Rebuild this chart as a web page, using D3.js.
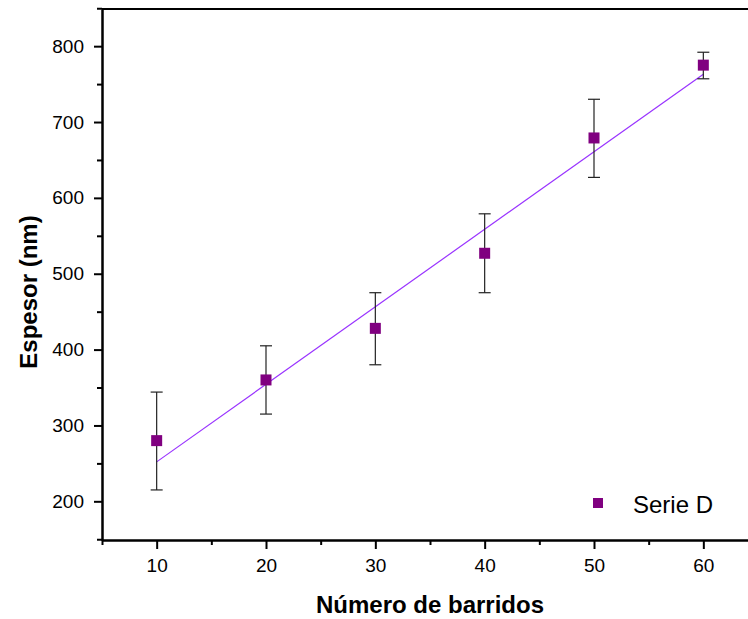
<!DOCTYPE html>
<html>
<head>
<meta charset="utf-8">
<script src="https://cdn.jsdelivr.net/npm/d3@7"></script>
<style>
    body { margin: 0; background: #fff; }
    svg { display: block; font-family: "Liberation Sans", Arial, sans-serif; }
</style>
</head>
<body>
<script>
// Data
var barridos = [10, 20, 30, 40, 50, 60];
var espesor = [280, 360, 428, 527, 679, 775];
var errLow = [215, 315, 380, 475, 627, 757];
var errHigh = [344, 405, 475, 579, 730, 792];
// straight fit drawn through the points (end values)
var fitX = [10, 60];
var fitY = [252, 763];
var xTicks = [10, 20, 30, 40, 50, 60];
var xMinor = [5, 15, 25, 35, 45, 55, 65];
var yTicks = [200, 300, 400, 500, 600, 700, 800];
var yMinor = [150, 250, 350, 450, 550, 650, 750, 850];
var seriesName = "Serie D";

var W = 748, H = 619;
var margin = {top: 9, left: 102, bottom: 79};
var plotW = 656, plotH = H - margin.top - margin.bottom;

var svg = d3.select("body").append("svg")
    .attr("width", W)
    .attr("height", H);

var g = svg.append("g")
    .attr("transform", "translate(" + margin.left + "," + margin.top + ")");

var x = d3.scaleLinear().domain([5, 65]).range([0, plotW]);
var y = d3.scaleLinear().domain([149, 849]).range([plotH, 0]);

var pts = barridos.map(function(b, i) {
    return {x: b, y: espesor[i], lo: errLow[i], hi: errHigh[i]};
});

// fit line
var line = d3.line()
    .x(function(d) { return x(d[0]); })
    .y(function(d) { return y(d[1]); });
g.append("path")
    .datum(fitX.map(function(v, i) { return [v, fitY[i]]; }))
    .attr("d", line)
    .attr("fill", "none")
    .attr("stroke", "#9933ff")
    .attr("stroke-width", 1.2);

// error bars
var eb = g.selectAll(".err").data(pts).enter().append("g")
    .attr("stroke", "#222")
    .attr("stroke-width", 1.2);
eb.append("line")
    .attr("x1", function(d) { return x(d.x); })
    .attr("x2", function(d) { return x(d.x); })
    .attr("y1", function(d) { return y(d.lo); })
    .attr("y2", function(d) { return y(d.hi); });
eb.append("line")
    .attr("x1", function(d) { return x(d.x) - 6; })
    .attr("x2", function(d) { return x(d.x) + 6; })
    .attr("y1", function(d) { return y(d.hi); })
    .attr("y2", function(d) { return y(d.hi); });
eb.append("line")
    .attr("x1", function(d) { return x(d.x) - 6; })
    .attr("x2", function(d) { return x(d.x) + 6; })
    .attr("y1", function(d) { return y(d.lo); })
    .attr("y2", function(d) { return y(d.lo); });

// square markers
var ms = 11;
g.selectAll(".pt").data(pts).enter().append("rect")
    .attr("x", function(d) { return x(d.x) - ms / 2; })
    .attr("y", function(d) { return y(d.y) - ms / 2; })
    .attr("width", ms)
    .attr("height", ms)
    .attr("fill", "#800080");

// axes: minor ticks first, then major ones with labels
function styleAxis(sel) {
    sel.selectAll("path").attr("stroke", "#000").attr("stroke-width", 2);
    sel.selectAll("line").attr("stroke", "#000").attr("stroke-width", 2);
    sel.selectAll("text").attr("fill", "#000")
        .style("font-family", "'Liberation Sans', Arial, sans-serif")
        .style("font-size", "19px");
}

g.append("g")
    .attr("transform", "translate(0," + plotH + ")")
    .call(d3.axisBottom(x).tickValues(xMinor).tickFormat("")
        .tickSize(5).tickSizeOuter(0))
    .call(styleAxis);
g.append("g")
    .attr("transform", "translate(0," + plotH + ")")
    .call(d3.axisBottom(x).tickValues(xTicks).tickFormat(d3.format("d"))
        .tickSize(9).tickSizeOuter(0).tickPadding(10))
    .call(styleAxis);

g.append("g")
    .call(d3.axisLeft(y).tickValues(yMinor).tickFormat("")
        .tickSize(5).tickSizeOuter(0))
    .call(styleAxis);
g.append("g")
    .call(d3.axisLeft(y).tickValues(yTicks).tickFormat(d3.format("d"))
        .tickSize(8).tickSizeOuter(0).tickPadding(10))
    .call(styleAxis);

// top frame line
g.append("line")
    .attr("x1", 0).attr("x2", plotW)
    .attr("y1", 0).attr("y2", 0)
    .attr("stroke", "#000").attr("stroke-width", 2);

// axis titles
svg.append("text")
    .attr("x", margin.left + x(35))
    .attr("y", 613)
    .attr("text-anchor", "middle")
    .style("font-weight", "bold")
    .style("font-size", "24px")
    .text("Número de barridos");

svg.append("text")
    .attr("transform", "translate(37," + 292 + ") rotate(-90)")
    .attr("text-anchor", "middle")
    .style("font-weight", "bold")
    .style("font-size", "24px")
    .text("Espesor (nm)");

// legend
svg.append("rect")
    .attr("x", 593).attr("y", 498)
    .attr("width", 10).attr("height", 10)
    .attr("fill", "#800080");
svg.append("text")
    .attr("x", 633).attr("y", 513)
    .style("font-size", "24px")
    .text(seriesName);
</script>
</body>
</html>
